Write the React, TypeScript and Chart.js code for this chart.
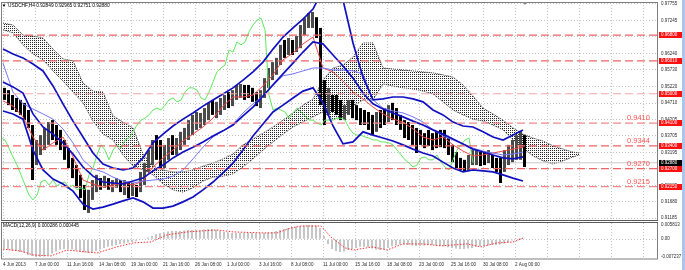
import React, { useEffect, useRef } from "react";
import { Chart, registerables } from "chart.js";

Chart.register(...registerables);

const FONT = '"Liberation Sans", Arial, sans-serif';

// ---------- texts ----------
const symbolTitle = "USDCHF,H4 0.92849 0.92965 0.92751 0.92880";
const macdTitle = "MACD(12,26,9) 0.000286 0.000445";

// ---------- time axis (H4 bars) ----------
const timeLabels = [
  "4 Jun 2013", "7 Jun 00:00", "11 Jun 16:00", "14 Jun 08:00", "19 Jun 00:00",
  "21 Jun 16:00", "26 Jun 08:00", "1 Jul 00:00", "3 Jul 16:00", "8 Jul 08:00",
  "11 Jul 00:00", "15 Jul 16:00", "18 Jul 08:00", "23 Jul 00:00", "25 Jul 16:00",
  "30 Jul 08:00", "2 Aug 00:00",
];
const barsPerLabel = 16;
const gridLineCount = 21;
const lastBarIndex = 261;
const barsPerCandle = 2;
const chikouShift = 26;

// ---------- price axis ----------
const priceTicks = [
  0.91185, 0.9168, 0.92185, 0.9269, 0.93195, 0.93705, 0.94205,
  0.9471, 0.9522, 0.9573, 0.9624, 0.96745, 0.97245, 0.97755,
];
const priceMin = 0.91093;
const priceMax = 0.97816;

// ---------- candles (each = 2 H4 bars) ----------
const candleHigh = [
  0.9518, 0.9511, 0.9496, 0.9487, 0.9481, 0.9472, 0.9450, 0.9404, 0.9358, 0.9373,
  0.9395, 0.9413, 0.9419, 0.9404, 0.9389, 0.9358, 0.9333, 0.9303, 0.9281, 0.9251,
  0.9220, 0.9205, 0.9235, 0.9251, 0.9241, 0.9248, 0.9241, 0.9235, 0.9241, 0.9235,
  0.9235, 0.9229, 0.9226, 0.9220, 0.9260, 0.9287, 0.9327, 0.9358, 0.9373, 0.9358,
  0.9343, 0.9364, 0.9373, 0.9364, 0.9383, 0.9395, 0.9419, 0.9435, 0.9444, 0.9441,
  0.9456, 0.9472, 0.9481, 0.9475, 0.9487, 0.9496, 0.9505, 0.9511, 0.9527, 0.9530,
  0.9527, 0.9527, 0.9518, 0.9505, 0.9511, 0.9548, 0.9579, 0.9597, 0.9610, 0.9650,
  0.9665, 0.9671, 0.9665, 0.9677, 0.9711, 0.9732, 0.9748, 0.9751, 0.9735, 0.9702,
  0.9542, 0.9518, 0.9496, 0.9496, 0.9481, 0.9465, 0.9481, 0.9481, 0.9465, 0.9456,
  0.9450, 0.9444, 0.9435, 0.9444, 0.9450, 0.9456, 0.9465, 0.9472, 0.9456, 0.9435,
  0.9419, 0.9413, 0.9404, 0.9395, 0.9389, 0.9379, 0.9389, 0.9379, 0.9383, 0.9389,
  0.9389, 0.9364, 0.9343, 0.9321, 0.9303, 0.9297, 0.9312, 0.9327, 0.9327, 0.9321,
  0.9321, 0.9327, 0.9312, 0.9303, 0.9303, 0.9327, 0.9343, 0.9358, 0.9373, 0.9386,
  0.9373,
];
const candleLow = [
  0.9481, 0.9465, 0.9450, 0.9444, 0.9435, 0.9419, 0.9395, 0.9235, 0.9281, 0.9312,
  0.9327, 0.9343, 0.9358, 0.9343, 0.9327, 0.9297, 0.9272, 0.9241, 0.9211, 0.9180,
  0.9143, 0.9134, 0.9174, 0.9198, 0.9205, 0.9211, 0.9205, 0.9198, 0.9211, 0.9198,
  0.9189, 0.9180, 0.9186, 0.9183, 0.9198, 0.9220, 0.9260, 0.9281, 0.9297, 0.9272,
  0.9272, 0.9297, 0.9312, 0.9312, 0.9327, 0.9343, 0.9358, 0.9373, 0.9389, 0.9395,
  0.9404, 0.9419, 0.9435, 0.9425, 0.9435, 0.9450, 0.9456, 0.9462, 0.9481, 0.9487,
  0.9481, 0.9487, 0.9475, 0.9462, 0.9456, 0.9487, 0.9518, 0.9542, 0.9558, 0.9588,
  0.9610, 0.9619, 0.9619, 0.9628, 0.9640, 0.9680, 0.9702, 0.9702, 0.9671, 0.9465,
  0.9404, 0.9435, 0.9444, 0.9435, 0.9419, 0.9419, 0.9435, 0.9425, 0.9419, 0.9404,
  0.9404, 0.9389, 0.9373, 0.9383, 0.9395, 0.9404, 0.9413, 0.9419, 0.9404, 0.9389,
  0.9364, 0.9358, 0.9343, 0.9318, 0.9343, 0.9333, 0.9340, 0.9327, 0.9333, 0.9336,
  0.9333, 0.9312, 0.9290, 0.9272, 0.9266, 0.9260, 0.9266, 0.9281, 0.9281, 0.9278,
  0.9281, 0.9287, 0.9272, 0.9260, 0.9226, 0.9260, 0.9281, 0.9290, 0.9297, 0.9297,
  0.9275,
];
const candleClose = [
  0.9496, 0.9481, 0.9465, 0.9456, 0.9450, 0.9435, 0.9404, 0.9281, 0.9327, 0.9358,
  0.9383, 0.9395, 0.9364, 0.9358, 0.9333, 0.9306, 0.9281, 0.9251, 0.9220, 0.9189,
  0.9174, 0.9189, 0.9229, 0.9235, 0.9220, 0.9235, 0.9217, 0.9226, 0.9229, 0.9211,
  0.9220, 0.9205, 0.9211, 0.9205, 0.9251, 0.9272, 0.9312, 0.9343, 0.9327, 0.9297,
  0.9327, 0.9343, 0.9333, 0.9358, 0.9364, 0.9383, 0.9404, 0.9419, 0.9425, 0.9435,
  0.9450, 0.9456, 0.9450, 0.9465, 0.9481, 0.9487, 0.9475, 0.9481, 0.9505, 0.9518,
  0.9518, 0.9511, 0.9487, 0.9481, 0.9505, 0.9536, 0.9567, 0.9579, 0.9588, 0.9634,
  0.9628, 0.9659, 0.9650, 0.9659, 0.9690, 0.9711, 0.9726, 0.9732, 0.9696, 0.9496,
  0.9450, 0.9456, 0.9450, 0.9444, 0.9425, 0.9441, 0.9456, 0.9444, 0.9432, 0.9419,
  0.9419, 0.9410, 0.9404, 0.9419, 0.9419, 0.9419, 0.9425, 0.9425, 0.9419, 0.9395,
  0.9379, 0.9373, 0.9373, 0.9367, 0.9364, 0.9358, 0.9358, 0.9352, 0.9352, 0.9349,
  0.9343, 0.9327, 0.9312, 0.9297, 0.9287, 0.9275, 0.9281, 0.9303, 0.9306, 0.9297,
  0.9297, 0.9312, 0.9290, 0.9275, 0.9266, 0.9297, 0.9327, 0.9343, 0.9358, 0.9364,
  0.9288,
];

// ---------- indicators (sampled every 5 bars) ----------
const indicatorIdx = [
  0, 5, 10, 15, 20, 25, 30, 35, 40, 45, 50, 55, 60, 65, 70, 75, 80, 85, 90, 95,
  100, 105, 110, 115, 120, 125, 130, 135, 140, 145, 150, 155, 160, 165, 170, 175,
  180, 185, 190, 195, 200, 205, 210, 215, 220, 225, 230, 235, 240, 245, 250, 255, 260,
];
const bbUpper = [
  0.9637, 0.9622, 0.9610, 0.9591, 0.9570, 0.9524, 0.9469, 0.9416, 0.9367, 0.9318,
  0.9284, 0.9272, 0.9266, 0.9272, 0.9303, 0.9349, 0.9376, 0.9401, 0.9422, 0.9441,
  0.9462, 0.9481, 0.9499, 0.9518, 0.9542, 0.9567, 0.9597, 0.9637, 0.9674, 0.9702,
  0.9729, 0.9760, 0.9819, 0.9849, 0.9788, 0.9656, 0.9551, 0.9481, 0.9484, 0.9490,
  0.9490, 0.9484, 0.9475, 0.9450, 0.9435, 0.9413, 0.9401, 0.9398, 0.9383, 0.9367,
  0.9358, 0.9373, 0.9389,
];
const bbMiddle = [
  0.9536, 0.9521, 0.9502, 0.9438, 0.9398, 0.9376, 0.9349, 0.9315, 0.9275, 0.9247,
  0.9229, 0.9226, 0.9223, 0.9232, 0.9241, 0.9263, 0.9281, 0.9303, 0.9321, 0.9336,
  0.9352, 0.9370, 0.9386, 0.9404, 0.9432, 0.9459, 0.9493, 0.9527, 0.9561, 0.9594,
  0.9628, 0.9659, 0.9653, 0.9619, 0.9585, 0.9548, 0.9502, 0.9469, 0.9453, 0.9441,
  0.9429, 0.9416, 0.9404, 0.9389, 0.9376, 0.9361, 0.9346, 0.9330, 0.9321, 0.9312,
  0.9303, 0.9300, 0.9306,
];
const bbLower = [
  0.9447, 0.9438, 0.9422, 0.9327, 0.9266, 0.9238, 0.9223, 0.9201, 0.9161, 0.9146,
  0.9152, 0.9161, 0.9171, 0.9180, 0.9168, 0.9149, 0.9149, 0.9155, 0.9168, 0.9183,
  0.9205, 0.9229, 0.9257, 0.9287, 0.9327, 0.9370, 0.9407, 0.9444, 0.9465, 0.9487,
  0.9508, 0.9518, 0.9472, 0.9401, 0.9346, 0.9352, 0.9383, 0.9373, 0.9364, 0.9355,
  0.9343, 0.9330, 0.9318, 0.9309, 0.9290, 0.9272, 0.9260, 0.9266, 0.9263, 0.9260,
  0.9251, 0.9241, 0.9232,
];
const kijun = [
  0.9594, 0.9505, 0.9469, 0.9453, 0.9438, 0.9422, 0.9392, 0.9349, 0.9297, 0.9269,
  0.9260, 0.9244, 0.9232, 0.9226, 0.9232, 0.9235, 0.9238, 0.9247, 0.9266, 0.9300,
  0.9336, 0.9367, 0.9386, 0.9407, 0.9441, 0.9469, 0.9493, 0.9527, 0.9555, 0.9561,
  0.9570, 0.9579, 0.9579, 0.9573, 0.9573, 0.9570, 0.9561, 0.9481, 0.9456, 0.9447,
  0.9441, 0.9429, 0.9413, 0.9389, 0.9370, 0.9358, 0.9346, 0.9333, 0.9324, 0.9318,
  0.9312, 0.9315, 0.9321,
];
const tenkan = [
  0.9478, 0.9462, 0.9429, 0.9367, 0.9327, 0.9349, 0.9367, 0.9306, 0.9235, 0.9223,
  0.9214, 0.9220, 0.9226, 0.9220, 0.9232, 0.9275, 0.9303, 0.9327, 0.9355, 0.9376,
  0.9398, 0.9425, 0.9462, 0.9490, 0.9490, 0.9496, 0.9524, 0.9558, 0.9604, 0.9625,
  0.9653, 0.9674, 0.9579, 0.9567, 0.9539, 0.9505, 0.9484, 0.9459, 0.9438, 0.9422,
  0.9413, 0.9392, 0.9367, 0.9358, 0.9367, 0.9343, 0.9324, 0.9309, 0.9312, 0.9318,
  0.9324, 0.9330, 0.9336,
];

// ---------- Ichimoku cloud ----------
const cloudIdx = [
  0, 5, 10, 15, 20, 25, 30, 35, 40, 45, 50, 55, 60, 65, 70, 75, 80, 85, 90, 95,
  100, 105, 110, 115, 120, 125, 130, 135, 140, 145, 150, 155, 160, 165, 170, 175,
  180, 185, 190, 195, 200, 205, 210, 215, 220, 225, 230, 235, 240, 245, 250, 255,
  260, 265, 270, 275, 280, 285, 288,
];
const senkouA = [
  0.9717, 0.9711, 0.9680, 0.9677, 0.9671, 0.9637, 0.9607, 0.9601, 0.9533, 0.9508,
  0.9505, 0.9432, 0.9413, 0.9395, 0.9315, 0.9278, 0.9266, 0.9260, 0.9260, 0.9266,
  0.9278, 0.9287, 0.9300, 0.9315, 0.9343, 0.9361, 0.9379, 0.9398, 0.9419, 0.9441,
  0.9465, 0.9484, 0.9542, 0.9579, 0.9588, 0.9613, 0.9656, 0.9656, 0.9579, 0.9576,
  0.9573, 0.9570, 0.9567, 0.9564, 0.9558, 0.9551, 0.9527, 0.9493, 0.9456, 0.9438,
  0.9419, 0.9395, 0.9376, 0.9364, 0.9355, 0.9340, 0.9330, 0.9321, 0.9318,
];
const senkouB = [
  0.9696, 0.9687, 0.9650, 0.9622, 0.9604, 0.9570, 0.9539, 0.9505, 0.9472, 0.9416,
  0.9376, 0.9358, 0.9312, 0.9278, 0.9266, 0.9251, 0.9223, 0.9205, 0.9198, 0.9211,
  0.9232, 0.9244, 0.9247, 0.9254, 0.9275, 0.9300, 0.9327, 0.9352, 0.9376, 0.9398,
  0.9413, 0.9429, 0.9444, 0.9422, 0.9429, 0.9462, 0.9481, 0.9481, 0.9530, 0.9524,
  0.9518, 0.9515, 0.9508, 0.9499, 0.9475, 0.9450, 0.9435, 0.9422, 0.9416, 0.9404,
  0.9389, 0.9358, 0.9333, 0.9309, 0.9294, 0.9284, 0.9294, 0.9306, 0.9312,
];

// ---------- horizontal levels ----------
const levelPrices = [0.968, 0.9601, 0.95, 0.941, 0.934, 0.927, 0.9215];
const levelTags = ["0.96800", "0.96010", "0.95000", "0.94100", "0.93400", "0.92700", "0.92150"];
const levelNotes = ["", "", "", "0.9410", "0.9344", "0.9270", "0.9215"];
const bidPrice = 0.9288;
const bidTag = "0.92880";

// ---------- MACD ----------
const macdHist = [
  -0.0038, -0.0042, -0.0046, -0.0048, -0.0052, -0.0056, -0.0064, -0.0068, -0.0072, -0.0072,
  -0.0070, -0.0064, -0.0058, -0.0050, -0.0042, -0.0040, -0.0040, -0.0042, -0.0046, -0.0050,
  -0.0054, -0.0056, -0.0054, -0.0048, -0.0042, -0.0036, -0.0031, -0.0027, -0.0023, -0.0019,
  -0.0017, -0.0013, -0.0011, -0.0007, -0.0003, 0.0003, 0.0007, 0.0013, 0.0020, 0.0024,
  0.0028, 0.0032, 0.0034, 0.0034, 0.0034, 0.0036, 0.0038, 0.0038, 0.0038, 0.0038,
  0.0040, 0.0042, 0.0042, 0.0038, 0.0034, 0.0030, 0.0028, 0.0026, 0.0026, 0.0026,
  0.0026, 0.0026, 0.0026, 0.0024, 0.0024, 0.0026, 0.0028, 0.0030, 0.0034, 0.0038,
  0.0042, 0.0046, 0.0050, 0.0052, 0.0054, 0.0056, 0.0058, 0.0058, 0.0056, 0.0046,
  0.0013, -0.0019, -0.0040, -0.0048, -0.0052, -0.0050, -0.0044, -0.0040, -0.0036, -0.0031,
  -0.0031, -0.0033, -0.0038, -0.0042, -0.0044, -0.0040, -0.0036, -0.0029, -0.0025, -0.0021,
  -0.0021, -0.0023, -0.0025, -0.0027, -0.0027, -0.0025, -0.0023, -0.0023, -0.0025, -0.0027,
  -0.0029, -0.0033, -0.0036, -0.0038, -0.0040, -0.0040, -0.0038, -0.0036, -0.0031, -0.0029,
  -0.0027, -0.0025, -0.0023, -0.0023, -0.0021, -0.0017, -0.0011, -0.0005, 0.0001, 0.0005,
  0.0003,
];
const macdSignalIdx = [
  0, 9, 15, 24, 32, 42, 47, 57, 65, 74, 82, 92, 107, 115, 129, 137,
  144, 149, 159, 164, 171, 175, 185, 192, 200, 210, 219, 232, 239, 247, 255, 260,
];
const macdSignal = [
  -0.0040, -0.0048, -0.0064, -0.0068, -0.0044, -0.0052, -0.0056, -0.0031, -0.0015, -0.0011,
  0.0018, 0.0030, 0.0038, 0.0030, 0.0026, 0.0026, 0.0046, 0.0054, 0.0054, 0.0009,
  -0.0035, -0.0044, -0.0031, -0.0044, -0.0019, -0.0019, -0.0027, -0.0019, -0.0031, -0.0015,
  -0.0011, 0.000445,
];
const macdTicks = [-0.007237, 0, 0.005813];
const macdTickLabels = ["-0.007237", "0.00", "0.005813"];
const macdMin = -0.00805;
const macdMax = 0.00663;

// ---------- styling ----------
const X_MIN = -1;
const X_MAX = 327.5;
const GRID = "#c4c4c4";
const CANDLE_OFFSET = 0.75;
const levelColors = ["#f06464", "#f06464", "#f6a8a8", "#f28a8a", "#f06464", "#f06464", "#f28a8a"];

const xTickValues = Array.from({ length: gridLineCount }, (_, k) => k * barsPerLabel);

function xScale(showLabels: boolean): any {
  return {
    type: "linear",
    min: X_MIN,
    max: X_MAX,
    offset: false,
    grid: { color: GRID, lineWidth: 1, drawTicks: false, offset: false },
    border: { display: false, dash: [1, 2] },
    afterBuildTicks: (axis: any) => {
      axis.ticks = xTickValues.map((value) => ({ value }));
    },
    afterFit: (axis: any) => {
      axis.height = showLabels ? 11 : 1;
      axis.paddingLeft = 0;
      axis.paddingRight = 0;
    },
    ticks: {
      display: showLabels,
      autoSkip: false,
      maxRotation: 0,
      minRotation: 0,
      align: "start",
      padding: 3,
      color: "#2a2a2a",
      font: { size: 4.6, family: FONT },
      callback: (value: number) => {
        const k = Math.round(value / barsPerLabel);
        return k < timeLabels.length ? timeLabels[k] : "";
      },
    },
  };
}

function makeDotPattern(ctx: CanvasRenderingContext2D) {
  const c = document.createElement("canvas");
  c.width = 2;
  c.height = 2;
  const g = c.getContext("2d") as CanvasRenderingContext2D;
  g.fillStyle = "#262626";
  g.fillRect(0, 0, 1, 1);
  return ctx.createPattern(c, "repeat");
}

const toPts = (xs: number[], ys: number[]) => xs.map((x, i) => ({ x, y: ys[i] }));

function lineDs(label: string, data: any[], color: string, width: number, order: number, extra: any = {}) {
  return {
    type: "line",
    label,
    data,
    borderColor: color,
    borderWidth: width,
    pointRadius: 0,
    tension: 0,
    fill: false,
    order,
    ...extra,
  };
}

const mainDecor = {
  id: "mainDecor",
  afterDraw(chart: any) {
    const { ctx, chartArea: a, scales } = chart;
    const y = scales.y;
    const x = scales.x;
    ctx.save();
    ctx.strokeStyle = "#808080";
    ctx.lineWidth = 1;
    ctx.strokeRect(a.left + 0.5, a.top + 0.5, a.right - a.left - 1, a.bottom - a.top - 1);
    ctx.fillStyle = "#5c5c5c";
    ctx.fillRect(a.left, a.bottom - 1, a.right - a.left, 1);
    ctx.font = `4.5px ${FONT}`;
    ctx.textBaseline = "middle";
    ctx.textAlign = "left";
    levelPrices.forEach((p, i) => {
      const py = Math.round(y.getPixelForValue(p));
      ctx.fillStyle = "#ff1010";
      ctx.fillRect(a.right + 1, py - 3, 23, 6);
      ctx.fillStyle = "#ffffff";
      ctx.fillText(levelTags[i], a.right + 3, py);
    });
    const by = Math.round(y.getPixelForValue(bidPrice));
    ctx.fillStyle = "#000000";
    ctx.fillRect(a.right + 1, by - 3, 23, 6);
    ctx.fillStyle = "#ffffff";
    ctx.fillText(bidTag, a.right + 3, by);
    ctx.font = `7.5px ${FONT}`;
    ctx.fillStyle = "#ff5252";
    ctx.textBaseline = "alphabetic";
    levelNotes.forEach((t, i) => {
      if (!t) return;
      ctx.fillText(t, a.right - 31, y.getPixelForValue(levelPrices[i]) - 3);
    });
    ctx.fillStyle = "#000000";
    ctx.font = `4.8px ${FONT}`;
    ctx.textBaseline = "middle";
    ctx.fillText(symbolTitle, a.left + 7, a.top + 4);
    ctx.beginPath();
    ctx.moveTo(a.left + 1.5, a.top + 2.5);
    ctx.lineTo(a.left + 4.5, a.top + 2.5);
    ctx.lineTo(a.left + 3, a.top + 5);
    ctx.closePath();
    ctx.fill();
    const sx = x.getPixelForValue(lastBarIndex);
    ctx.fillStyle = "#8a8a8a";
    ctx.beginPath();
    ctx.moveTo(sx - 2.5, a.top);
    ctx.lineTo(sx + 2.5, a.top);
    ctx.lineTo(sx, a.top + 3);
    ctx.closePath();
    ctx.fill();
    ctx.restore();
  },
};

const macdDecor = {
  id: "macdDecor",
  afterDraw(chart: any) {
    const { ctx, chartArea: a } = chart;
    ctx.save();
    ctx.strokeStyle = "#808080";
    ctx.lineWidth = 1;
    ctx.strokeRect(a.left + 0.5, a.top - 0.5, a.right - a.left - 1, a.bottom - a.top + 0.5);
    ctx.fillStyle = "#5c5c5c";
    ctx.fillRect(a.left, 0, a.right - a.left, 1);
    ctx.fillStyle = "#000000";
    ctx.font = `4.8px ${FONT}`;
    ctx.textBaseline = "middle";
    ctx.fillText(macdTitle, a.left + 2, a.top + 2.5);
    ctx.restore();
  },
};

export default function App() {
  const mainRef = useRef<HTMLCanvasElement>(null);
  const macdRef = useRef<HTMLCanvasElement>(null);

  useEffect(() => {
    const mainCanvas = mainRef.current as HTMLCanvasElement;
    const macdCanvas = macdRef.current as HTMLCanvasElement;
    const dots = makeDotPattern(mainCanvas.getContext("2d") as CanvasRenderingContext2D);

    const candleData = candleHigh.map((h, k) => ({
      x: k * barsPerCandle + CANDLE_OFFSET,
      y: [candleLow[k], h],
    }));
    const candleColors = candleClose.map((c, k) =>
      k > 0 && c > candleClose[k - 1] ? "#4a4a4a" : "#000000"
    );
    const chikouData = candleClose.map((c, k) => ({
      x: k * barsPerCandle + 1 - chikouShift,
      y: c,
    }));

    const levelSets = levelPrices.map((p, i) =>
      lineDs("level" + i, [{ x: X_MIN, y: p }, { x: X_MAX, y: p }], levelColors[i], 1.2, 1, {
        borderDash: [8, 4],
      })
    );

    const main = new Chart(mainCanvas, {
      type: "line",
      data: {
        datasets: [
          lineDs("senkouA", toPts(cloudIdx, senkouA), "#3a3a3a", 1, 20, {
            fill: { target: "+1" },
            backgroundColor: dots,
            borderDash: [1, 1],
          }),
          lineDs("senkouB", toPts(cloudIdx, senkouB), "#3a3a3a", 1, 20, { borderDash: [1, 1] }),
          lineDs("bid", [{ x: X_MIN, y: bidPrice }, { x: X_MAX, y: bidPrice }], "#c8c8c8", 1, 15),
          {
            type: "bar",
            label: "candles",
            data: candleData,
            backgroundColor: candleColors,
            borderWidth: 0,
            barThickness: 3,
            grouped: false,
            inflateAmount: 0,
            order: 10,
          } as any,
          lineDs("chikou", chikouData, "#5fe85f", 1, 6),
          lineDs("kijun", toPts(indicatorIdx, kijun), "#7676ff", 1, 5),
          lineDs("tenkan", toPts(indicatorIdx, tenkan), "#f24848", 1, 5),
          lineDs("bbLower", toPts(indicatorIdx, bbLower), "#1010c0", 1.7, 4),
          lineDs("bbMiddle", toPts(indicatorIdx, bbMiddle), "#1010c0", 1.7, 4),
          lineDs("bbUpper", toPts(indicatorIdx, bbUpper), "#1010c0", 1.7, 4),
          ...levelSets,
        ] as any,
      },
      options: {
        responsive: false,
        animation: false,
        events: [],
        layout: { padding: { left: 1, top: 2, right: 0, bottom: 0 }, autoPadding: false },
        plugins: { legend: { display: false }, tooltip: { enabled: false } },
        scales: {
          x: xScale(false),
          y: {
            type: "linear",
            position: "right",
            min: priceMin,
            max: priceMax,
            beginAtZero: false,
            grid: { color: GRID, lineWidth: 1, drawTicks: false },
            border: { display: false, dash: [1, 2] },
            afterBuildTicks: (axis: any) => {
              axis.ticks = priceTicks.map((value) => ({ value }));
            },
            afterFit: (axis: any) => {
              axis.width = 27;
              axis.paddingTop = 0;
              axis.paddingBottom = 0;
            },
            ticks: {
              autoSkip: false,
              padding: 3,
              color: "#2a2a2a",
              font: { size: 4.5, family: FONT },
              callback: (v: any) => Number(v).toFixed(5),
            },
          },
        } as any,
      } as any,
      plugins: [mainDecor],
    });

    const macd = new Chart(macdCanvas, {
      type: "line",
      data: {
        datasets: [
          lineDs("signal", toPts(macdSignalIdx, macdSignal), "#ff3030", 1, 1, {
            borderDash: [1.5, 1.5],
          }),
          {
            type: "bar",
            label: "macd",
            data: macdHist.map((v, k) => ({ x: k * barsPerCandle + 0.5, y: v })),
            backgroundColor: "#c6c6c6",
            borderWidth: 0,
            barThickness: 2,
            grouped: false,
            inflateAmount: 0,
            order: 5,
          } as any,
        ] as any,
      },
      options: {
        responsive: false,
        animation: false,
        events: [],
        layout: { padding: { left: 1, top: 1, right: 0, bottom: 0 }, autoPadding: false },
        plugins: { legend: { display: false }, tooltip: { enabled: false } },
        scales: {
          x: xScale(true),
          y: {
            type: "linear",
            position: "right",
            min: macdMin,
            max: macdMax,
            beginAtZero: false,
            grid: {
              color: (c: any) => (c.tick && c.tick.value === 0 ? GRID : "rgba(0,0,0,0)"),
              lineWidth: 1,
              drawTicks: false,
            },
            border: { display: false, dash: [1, 2] },
            afterBuildTicks: (axis: any) => {
              axis.ticks = macdTicks.map((value) => ({ value }));
            },
            afterFit: (axis: any) => {
              axis.width = 27;
              axis.paddingTop = 0;
              axis.paddingBottom = 0;
            },
            ticks: {
              autoSkip: false,
              padding: 3,
              color: "#2a2a2a",
              font: { size: 4.5, family: FONT },
              callback: (v: any) => {
                const i = macdTicks.indexOf(Number(v));
                return i >= 0 ? macdTickLabels[i] : "";
              },
            },
          },
        } as any,
      } as any,
      plugins: [macdDecor],
    });

    return () => {
      main.destroy();
      macd.destroy();
    };
  }, []);

  return (
    <div
      style={{
        position: "fixed",
        left: 0,
        top: 0,
        width: 685,
        height: 270,
        background: "#ffffff",
        overflow: "hidden",
      }}
    >
      <canvas ref={mainRef} width={685} height={222} style={{ position: "absolute", left: 0, top: 0 }} />
      <canvas ref={macdRef} width={685} height={48} style={{ position: "absolute", left: 0, top: 222 }} />
      <div style={{ position: "absolute", left: 682, top: 0, width: 3, height: 270, background: "#aac6ea" }} />
    </div>
  );
}
